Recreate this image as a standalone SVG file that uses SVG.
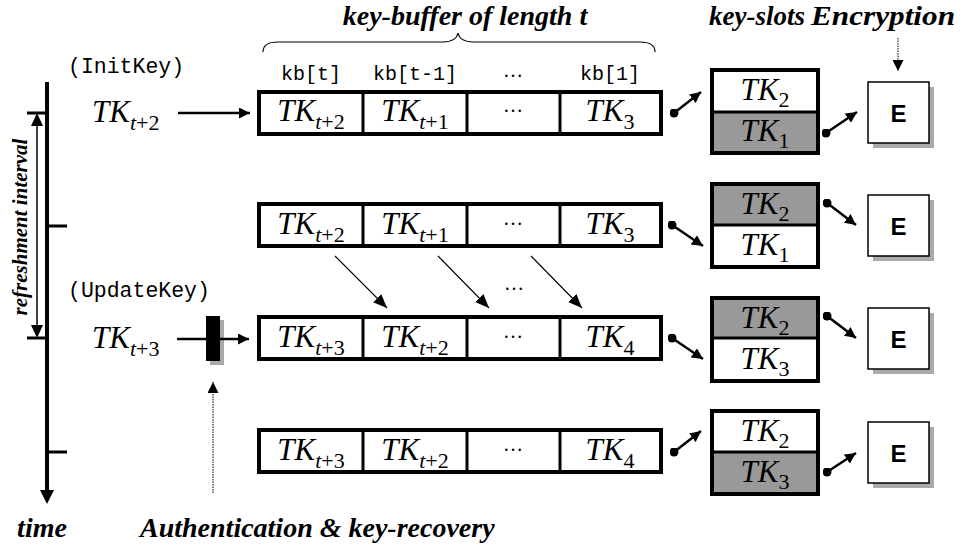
<svg xmlns="http://www.w3.org/2000/svg" width="967" height="548" viewBox="0 0 967 548">
  <style>
    .tk { font-family: "Liberation Serif", "Times New Roman", serif; font-style: italic; font-size: 31px; fill: #000; }
    .sub { font-size: 22px; font-style: normal; }
    .it { font-style: italic; }
    .mono { font-family: "Liberation Mono", "Courier New", monospace; font-size: 20px; fill: #000; }
    .mono-lg { font-family: "Liberation Mono", "Courier New", monospace; font-size: 21.5px; fill: #000; }
    .title { font-family: "Liberation Serif", "Times New Roman", serif; font-style: italic; font-weight: bold; font-size: 28px; fill: #000; }
    .title-sm { font-family: "Liberation Serif", "Times New Roman", serif; font-style: italic; font-weight: bold; font-size: 27px; fill: #000; }
    .side { font-family: "Liberation Serif", "Times New Roman", serif; font-style: italic; font-weight: bold; font-size: 21px; fill: #000; }
    .dots { font-family: "Liberation Serif", "Times New Roman", serif; font-size: 20px; fill: #000; }
    .box { fill: #fff; stroke: #000; stroke-width: 4; }
    .div { stroke: #000; stroke-width: 3; }
    .gray { fill: #999; }
    .ebox { fill: #fff; stroke: #000; stroke-width: 1.5; }
    .shadow { fill: #aaa; }
    .e { font-family: "Liberation Sans", Arial, sans-serif; font-weight: bold; font-size: 24px; fill: #000; }
    .conn { stroke: #000; stroke-width: 2.5; fill: none; }
    .thin { stroke: #000; stroke-width: 1.1; fill: none; }
  </style>
  <defs>
    <marker id="ah" viewBox="0 0 10 10" refX="10" refY="5" markerWidth="11" markerHeight="11" markerUnits="userSpaceOnUse" orient="auto">
      <path d="M0,0 L10,5 L0,10 z" fill="#000"/>
    </marker>
    <marker id="ahThin" viewBox="0 0 12 10" refX="12" refY="5" markerWidth="14" markerHeight="12" markerUnits="userSpaceOnUse" orient="auto">
      <path d="M0,0 L12,5 L0,10 z" fill="#000"/>
    </marker>
    <marker id="dot" viewBox="0 0 10 10" refX="5" refY="5" markerWidth="9" markerHeight="9" markerUnits="userSpaceOnUse">
      <circle cx="5" cy="5" r="5" fill="#000"/>
    </marker>
  </defs>

  <!-- headings -->
  <text class="title" x="465" y="25" text-anchor="middle">key-buffer of length t</text>
  <text class="title-sm" x="757" y="25" text-anchor="middle">key-slots</text>
  <text class="title" x="811" y="25" textLength="144" lengthAdjust="spacingAndGlyphs">Encryption</text>
  <path class="thin" d="M263,52 Q263,42 278,42 L443,42 Q456,42 458,33 Q460,42 473,42 L640,42 Q655,42 655,52" stroke-width="1.3"/>

  <!-- column labels -->
  <text class="mono" x="311" y="80" text-anchor="middle">kb[t]</text>
  <text class="mono" x="415" y="80" text-anchor="middle">kb[t-1]</text>
  <text class="dots" x="513" y="77" text-anchor="middle">…</text>
  <text class="mono" x="610" y="80" text-anchor="middle">kb[1]</text>

  <!-- time axis -->
  <g id="time-axis">
    <line x1="47" y1="82" x2="47" y2="492" stroke="#000" stroke-width="4"/>
    <path d="M40,490 L54,490 L47,504 z" fill="#000"/>
    <line x1="27" y1="113" x2="47" y2="113" stroke="#000" stroke-width="3"/>
    <line x1="47" y1="226" x2="67" y2="226" stroke="#000" stroke-width="3"/>
    <line x1="27" y1="338" x2="47" y2="338" stroke="#000" stroke-width="3"/>
    <line x1="47" y1="452" x2="67" y2="452" stroke="#000" stroke-width="3"/>
    <line x1="37" y1="124" x2="37" y2="327" stroke="#000" stroke-width="1.5"/>
    <path d="M31,126 L43,126 L37,113 z" fill="#000"/>
    <path d="M31,325 L43,325 L37,338 z" fill="#000"/>
    <text class="side" transform="translate(27,227) rotate(-90)" text-anchor="middle">refreshment interval</text>
    <text class="title" x="42" y="537" text-anchor="middle">time</text>
  </g>

  <!-- incoming keys -->
  <g id="init-key">
    <text class="mono-lg" x="68" y="73">(InitKey)</text>
    <text class="tk" x="92" y="122">TK<tspan class="sub" dy="8"><tspan class="it">t</tspan>+2</tspan></text>
  </g>
  <g id="update-key">
    <text class="mono-lg" x="68" y="297">(UpdateKey)</text>
    <text class="tk" x="92" y="348">TK<tspan class="sub" dy="8"><tspan class="it">t</tspan>+3</tspan></text>
  </g>
  <g id="auth">
    <rect x="210" y="320" width="14" height="45" class="shadow"/>
    <rect x="206" y="316" width="14" height="45" fill="#000"/>
    <text class="title" x="140" y="537">Authentication &amp; key-recovery</text>
  </g>

  <!-- buffer row 1 -->
  <g id="buffer-1">
    <rect class="box" x="259" y="92" width="402" height="42"/>
    <line class="div" x1="363" y1="92" x2="363" y2="134"/>
    <line class="div" x1="467" y1="92" x2="467" y2="134"/>
    <line class="div" x1="560" y1="92" x2="560" y2="134"/>
    <text class="tk" x="311" y="121" text-anchor="middle">TK<tspan class="sub" dy="8"><tspan class="it">t</tspan>+2</tspan></text>
    <text class="tk" x="415" y="121" text-anchor="middle">TK<tspan class="sub" dy="8"><tspan class="it">t</tspan>+1</tspan></text>
    <text class="dots" x="513" y="112" text-anchor="middle">…</text>
    <text class="tk" x="610" y="121" text-anchor="middle">TK<tspan class="sub" dy="8">3</tspan></text>
  </g>
  <!-- buffer row 2 -->
  <g id="buffer-2">
    <rect class="box" x="259" y="204" width="402" height="42"/>
    <line class="div" x1="363" y1="204" x2="363" y2="246"/>
    <line class="div" x1="467" y1="204" x2="467" y2="246"/>
    <line class="div" x1="560" y1="204" x2="560" y2="246"/>
    <text class="tk" x="311" y="234" text-anchor="middle">TK<tspan class="sub" dy="8"><tspan class="it">t</tspan>+2</tspan></text>
    <text class="tk" x="415" y="234" text-anchor="middle">TK<tspan class="sub" dy="8"><tspan class="it">t</tspan>+1</tspan></text>
    <text class="dots" x="513" y="225" text-anchor="middle">…</text>
    <text class="tk" x="610" y="234" text-anchor="middle">TK<tspan class="sub" dy="8">3</tspan></text>
  </g>
  <!-- buffer row 3 -->
  <g id="buffer-3">
    <rect class="box" x="259" y="317" width="402" height="42"/>
    <line class="div" x1="363" y1="317" x2="363" y2="359"/>
    <line class="div" x1="467" y1="317" x2="467" y2="359"/>
    <line class="div" x1="560" y1="317" x2="560" y2="359"/>
    <text class="tk" x="311" y="347" text-anchor="middle">TK<tspan class="sub" dy="8"><tspan class="it">t</tspan>+3</tspan></text>
    <text class="tk" x="415" y="347" text-anchor="middle">TK<tspan class="sub" dy="8"><tspan class="it">t</tspan>+2</tspan></text>
    <text class="dots" x="513" y="338" text-anchor="middle">…</text>
    <text class="tk" x="610" y="347" text-anchor="middle">TK<tspan class="sub" dy="8">4</tspan></text>
  </g>
  <!-- buffer row 4 -->
  <g id="buffer-4">
    <rect class="box" x="259" y="430" width="402" height="42"/>
    <line class="div" x1="363" y1="430" x2="363" y2="472"/>
    <line class="div" x1="467" y1="430" x2="467" y2="472"/>
    <line class="div" x1="560" y1="430" x2="560" y2="472"/>
    <text class="tk" x="311" y="460" text-anchor="middle">TK<tspan class="sub" dy="8"><tspan class="it">t</tspan>+3</tspan></text>
    <text class="tk" x="415" y="460" text-anchor="middle">TK<tspan class="sub" dy="8"><tspan class="it">t</tspan>+2</tspan></text>
    <text class="dots" x="513" y="451" text-anchor="middle">…</text>
    <text class="tk" x="610" y="460" text-anchor="middle">TK<tspan class="sub" dy="8">4</tspan></text>
  </g>

  <!-- key slots -->
  <g id="slots-1">
    <rect class="box" x="712" y="70" width="106" height="83"/>
    <rect class="gray" x="714" y="112" width="102" height="39"/>
    <line class="div" x1="712" y1="112" x2="818" y2="112"/>
    <text class="tk" x="765" y="100" text-anchor="middle">TK<tspan class="sub" dy="7">2</tspan></text>
    <text class="tk" x="765" y="141" text-anchor="middle">TK<tspan class="sub" dy="7">1</tspan></text>
  </g>
  <g id="slots-2">
    <rect class="box" x="712" y="184" width="106" height="83"/>
    <rect class="gray" x="714" y="186" width="102" height="39"/>
    <line class="div" x1="712" y1="225" x2="818" y2="225"/>
    <text class="tk" x="765" y="214" text-anchor="middle">TK<tspan class="sub" dy="7">2</tspan></text>
    <text class="tk" x="765" y="255" text-anchor="middle">TK<tspan class="sub" dy="7">1</tspan></text>
  </g>
  <g id="slots-3">
    <rect class="box" x="712" y="298" width="106" height="83"/>
    <rect class="gray" x="714" y="300" width="102" height="38"/>
    <line class="div" x1="712" y1="338" x2="818" y2="338"/>
    <text class="tk" x="765" y="328" text-anchor="middle">TK<tspan class="sub" dy="7">2</tspan></text>
    <text class="tk" x="765" y="369" text-anchor="middle">TK<tspan class="sub" dy="7">3</tspan></text>
  </g>
  <g id="slots-4">
    <rect class="box" x="712" y="411" width="106" height="83"/>
    <rect class="gray" x="714" y="452" width="102" height="40"/>
    <line class="div" x1="712" y1="452" x2="818" y2="452"/>
    <text class="tk" x="765" y="441" text-anchor="middle">TK<tspan class="sub" dy="7">2</tspan></text>
    <text class="tk" x="765" y="482" text-anchor="middle">TK<tspan class="sub" dy="7">3</tspan></text>
  </g>

  <!-- encryption units -->
  <g id="enc-1">
    <rect class="shadow" x="873" y="87" width="61" height="61"/>
    <rect class="ebox" x="868" y="82" width="61" height="61"/>
    <text class="e" x="898.5" y="121.5" text-anchor="middle">E</text>
  </g>
  <g id="enc-2">
    <rect class="shadow" x="873" y="200" width="61" height="61"/>
    <rect class="ebox" x="868" y="195" width="61" height="61"/>
    <text class="e" x="898.5" y="234.5" text-anchor="middle">E</text>
  </g>
  <g id="enc-3">
    <rect class="shadow" x="873" y="313" width="61" height="61"/>
    <rect class="ebox" x="868" y="308" width="61" height="61"/>
    <text class="e" x="898.5" y="347.5" text-anchor="middle">E</text>
  </g>
  <g id="enc-4">
    <rect class="shadow" x="873" y="427" width="61" height="61"/>
    <rect class="ebox" x="868" y="422" width="61" height="61"/>
    <text class="e" x="898.5" y="461.5" text-anchor="middle">E</text>
  </g>

  <!-- connectors -->
  <g id="connectors">
    <line x1="178" y1="113" x2="250" y2="113" class="conn" stroke-width="2.2" marker-end="url(#ah)"/>
    <line x1="177" y1="339" x2="206" y2="339" class="conn" stroke-width="2.2"/>
    <line x1="220" y1="339" x2="249" y2="339" class="conn" stroke-width="2.2" marker-end="url(#ah)"/>
    <line x1="213" y1="493" x2="213" y2="382" stroke="#000" stroke-width="1" stroke-dasharray="1.5,1" marker-end="url(#ah)"/>
    <line x1="898" y1="38" x2="898" y2="71" stroke="#000" stroke-width="1" stroke-dasharray="1.5,1" marker-end="url(#ah)"/>

    <line x1="674" y1="113" x2="701" y2="92" class="conn" marker-start="url(#dot)" marker-end="url(#ah)"/>
    <line x1="826" y1="133" x2="857" y2="112" class="conn" marker-start="url(#dot)" marker-end="url(#ah)"/>
    <line x1="672" y1="225" x2="703" y2="246" class="conn" marker-start="url(#dot)" marker-end="url(#ah)"/>
    <line x1="827" y1="203" x2="856" y2="225" class="conn" marker-start="url(#dot)" marker-end="url(#ah)"/>
    <line x1="672" y1="338" x2="703" y2="359" class="conn" marker-start="url(#dot)" marker-end="url(#ah)"/>
    <line x1="827" y1="316" x2="856" y2="338" class="conn" marker-start="url(#dot)" marker-end="url(#ah)"/>
    <line x1="674" y1="452" x2="701" y2="431" class="conn" marker-start="url(#dot)" marker-end="url(#ah)"/>
    <line x1="827" y1="472" x2="856" y2="453" class="conn" marker-start="url(#dot)" marker-end="url(#ah)"/>

    <line x1="335" y1="256" x2="387" y2="308" class="thin" marker-end="url(#ahThin)"/>
    <line x1="438" y1="256" x2="489" y2="308" class="thin" marker-end="url(#ahThin)"/>
    <line x1="531" y1="256" x2="582" y2="308" class="thin" marker-end="url(#ahThin)"/>
    <text class="dots" x="514" y="290" text-anchor="middle">…</text>
  </g>
</svg>
